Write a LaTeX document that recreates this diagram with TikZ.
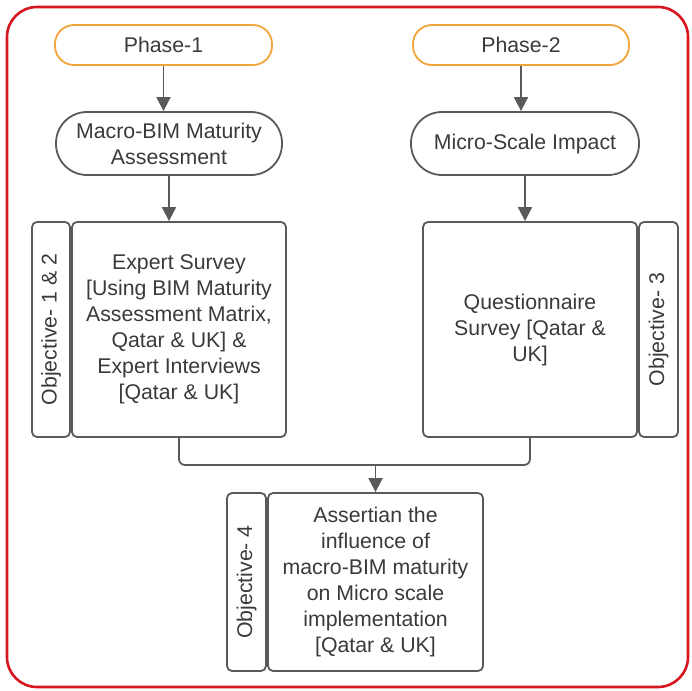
\documentclass[tikz,border=0pt]{standalone}
\usepackage{fontspec}
\setmainfont{Liberation Sans}
\usetikzlibrary{arrows.meta}
\definecolor{lin}{HTML}{5A5A5A}
\definecolor{txt}{HTML}{3A3A3A}
\definecolor{orng}{HTML}{F2A33A}
\definecolor{bord}{HTML}{D8161F}
\tikzset{
  base/.style={draw=lin, line width=1.8pt, text=txt, align=center, inner sep=0pt,
    font=\fontsize{21.3}{26}\selectfont},
  phase/.style={base, draw=orng, rounded corners=19pt, minimum height=40pt},
  pill/.style={base, rounded corners=31pt, minimum height=63pt},
  bigbox/.style={base, rounded corners=5pt},
  objbox/.style={base, rounded corners=5pt, rotate=90},
  conn/.style={draw=lin, line width=1.8pt},
  arr/.style={conn, -{Triangle[length=14pt,width=14pt]}}
}
\begin{document}
\begin{tikzpicture}[x=1pt,y=-1pt]
\useasboundingbox (0,0) rectangle (692,690);
\draw[bord, line width=2.6pt, rounded corners=30pt] (7,7) rectangle (688,687);

\node[phase, minimum width=217pt] (p1) at (163.5,45) {Phase-1};
\node[phase, minimum width=216pt] (p2) at (521,45) {Phase-2};
\node[pill, minimum width=226pt] (macro) at (169,143.5) {Macro-BIM Maturity\\Assessment};
\node[pill, minimum width=228pt] (micro) at (525,143.5) {Micro-Scale Impact};

\node[objbox, minimum width=215pt, minimum height=38pt] (o12) at (51,329.5) {Objective- 1 \& 2};
\node[bigbox, minimum width=214pt, minimum height=215pt] (expert) at (179,329.5)
  {Expert Survey\\{}[Using BIM Maturity\\Assessment Matrix,\\Qatar \& UK] \&\\Expert Interviews\\{}[Qatar \& UK]};
\node[bigbox, minimum width=214pt, minimum height=215pt] (quest) at (530,329.5)
  {Questionnaire\\Survey [Qatar \&\\UK]};
\node[objbox, minimum width=215pt, minimum height=39pt] (o3) at (658.5,329.5) {Objective- 3};

\node[objbox, minimum width=178pt, minimum height=39pt] (o4) at (246.5,582) {Objective- 4};
\node[bigbox, minimum width=215pt, minimum height=178pt] (assert) at (375.5,582)
  {Assertian the\\influence of\\macro-BIM maturity\\on Micro scale\\implementation\\{}[Qatar \& UK]};

\draw[arr] (p1.south) -- (p1.south |- macro.north);
\draw[arr] (p2.south) -- (p2.south |- micro.north);
\draw[arr] (macro.south) -- (macro.south |- expert.north);
\draw[arr] (micro.south) -- (micro.south |- quest.north);

\coordinate (j) at (375.5,465);
\draw[conn, rounded corners=6pt] (expert.south) |- (j) -| (quest.south);
\draw[arr] (j) -- (assert.north);
\end{tikzpicture}
\end{document}
